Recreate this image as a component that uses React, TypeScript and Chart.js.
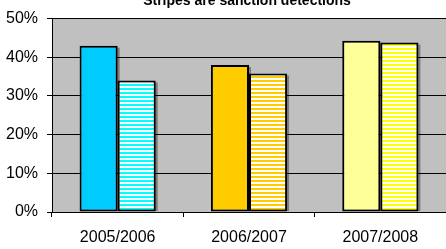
import React, { useEffect, useRef } from "react";
import { Chart, registerables } from "chart.js";

Chart.register(...registerables);

const categories = ["2005/2006", "2006/2007", "2007/2008"];
const allDetections = [43, 38, 44.3];
const sanctionDetections = [34, 35.8, 43.8];
const solidColors = ["#00CCFF", "#FFCC00", "#FFFF99"];
const stripeColors = ["#00FFFF", "#FFCC00", "#FFFF00"];
const yTicks = [0, 10, 20, 30, 40, 50];
const titleText = "Stripes are sanction detections";

const FONT = "'Liberation Sans', Arial, sans-serif";

function makeStripe(color: string): CanvasPattern | string {
  const c = document.createElement("canvas");
  c.width = 4;
  c.height = 4;
  const g = c.getContext("2d");
  if (!g) return color;
  g.fillStyle = "#FFFFFF";
  g.fillRect(0, 0, 4, 4);
  g.fillStyle = color;
  g.fillRect(0, 0, 4, 2);
  const p = g.createPattern(c, "repeat");
  return p || color;
}

export default function App() {
  const ref = useRef<HTMLCanvasElement>(null);

  useEffect(() => {
    if (!ref.current) return;
    const bgPlugin = {
      id: "plotBg",
      beforeDraw(chart: any) {
        const { ctx, chartArea } = chart;
        ctx.save();
        ctx.fillStyle = "#C0C0C0";
        ctx.fillRect(chartArea.left, chartArea.top, chartArea.right - chartArea.left, chartArea.bottom - chartArea.top);
        ctx.restore();
      },
      beforeDatasetsDraw(chart: any) {
        const { ctx, chartArea } = chart;
        ctx.save();
        ctx.beginPath();
        ctx.rect(chartArea.left, chartArea.top, chartArea.right - chartArea.left, chartArea.bottom - chartArea.top - 1);
        ctx.clip();
        ctx.fillStyle = "rgba(0,0,0,0.35)";
        chart.data.datasets.forEach((_: any, di: number) => {
          const meta = chart.getDatasetMeta(di);
          meta.data.forEach((el: any) => {
            const w = el.width;
            ctx.fillRect(el.x - w / 2 + 2, el.y + 2, w, el.base - el.y);
          });
        });
        ctx.restore();
      },
      afterDraw(chart: any) {
        const { ctx, chartArea } = chart;
        ctx.save();
        ctx.font = `bold 14px ${FONT}`;
        ctx.fillStyle = "#000";
        ctx.textAlign = "center";
        ctx.textBaseline = "alphabetic";
        ctx.fillText(titleText, (chartArea.left + chartArea.right) / 2 - 2, 5);
        ctx.restore();
      },
    };

    const chart = new Chart(ref.current, {
      type: "bar",
      data: {
        labels: categories,
        datasets: [
          {
            label: "Detections",
            data: allDetections,
            backgroundColor: solidColors,
            borderColor: "#000",
            borderWidth: 2,
            borderSkipped: false,
          },
          {
            label: "Sanction detections",
            data: sanctionDetections,
            backgroundColor: stripeColors.map(makeStripe) as any,
            borderColor: "#000",
            borderWidth: 2,
            borderSkipped: false,
          },
        ],
      },
      options: {
        animation: false,
        responsive: false,
        devicePixelRatio: 1,
        layout: { padding: { top: 15, right: 0, left: 0, bottom: 0 } },
        plugins: {
          legend: { display: false },
          tooltip: { enabled: false },
          title: { display: false },
        },
        datasets: { bar: { categoryPercentage: 0.58, barPercentage: 1 } },
        scales: {
          x: {
            grid: { display: true, drawOnChartArea: false, drawTicks: true, tickLength: 5, offset: true, color: "#000" },
            border: { display: true, color: "#000", width: 1 },
            ticks: { color: "#000", font: { family: FONT, size: 16 }, padding: 11, maxRotation: 0 },
            afterFit(scale: any) {
              scale.height = 37;
            },
          },
          y: {
            min: 0,
            max: 50,
            afterBuildTicks(scale: any) {
              scale.ticks = yTicks.map((v) => ({ value: v }));
            },
            grid: { color: "#000", lineWidth: 1, tickLength: 5, drawTicks: true },
            border: { display: true, color: "#000", width: 1 },
            ticks: {
              color: "#000",
              font: { family: FONT, size: 16 },
              padding: 9,
              callback: (v: any) => `${v}%`,
            },
            afterFit(scale: any) {
              scale.width = 52;
            },
          },
        },
      },
      plugins: [bgPlugin],
    } as any);
    return () => chart.destroy();
  }, []);

  return (
    <div style={{ position: "fixed", left: 0, top: 0, width: 446, height: 249, background: "#fff" }}>
      <canvas ref={ref} width={446} height={249} style={{ width: 446, height: 249, display: "block" }} />
    </div>
  );
}
